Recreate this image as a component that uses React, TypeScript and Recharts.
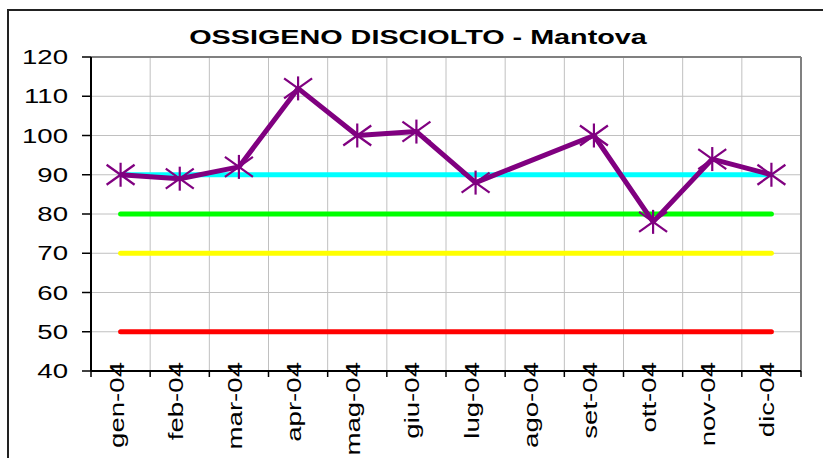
import { LineChart, Line, XAxis, YAxis, CartesianGrid, ReferenceLine } from 'recharts';

const months = ['gen-04', 'feb-04', 'mar-04', 'apr-04', 'mag-04', 'giu-04', 'lug-04', 'ago-04', 'set-04', 'ott-04', 'nov-04', 'dic-04'];
const ossigeno = [90, 89, 92, 112, 100, 101, 88, null, 100, 78, 94, 90];
const soglia90 = [90, 90, 90, 90, 90, 90, 90, 90, 90, 90, 90, 90];
const soglia80 = [80, 80, 80, 80, 80, 80, 80, 80, 80, 80, 80, 80];
const soglia70 = [70, 70, 70, 70, 70, 70, 70, 70, 70, 70, 70, 70];
const soglia50 = [50, 50, 50, 50, 50, 50, 50, 50, 50, 50, 50, 50];
const yTicks = [40, 50, 60, 70, 80, 90, 100, 110, 120];
const gridTicks = [0, 1, 2, 3, 4, 5, 6, 7, 8, 9, 10, 11, 12];

const data = months.map((m, i) => ({
  pos: i + 0.5,
  mese: m,
  ossigeno: ossigeno[i],
  s90: soglia90[i],
  s80: soglia80[i],
  s70: soglia70[i],
  s50: soglia50[i],
}));

const FONT = '"Liberation Sans", Arial, sans-serif';
const STRETCH = 1.38;

const YTick = ({ x, y, payload }: any) => (
  <g transform={`translate(${x},${y})`}>
    <text transform={`scale(${STRETCH},1)`} textAnchor="end" dy={7} fontSize={20} fontFamily={FONT} fill="#000">
      {payload.value}
    </text>
  </g>
);

// ticks sit on the category boundaries; the month name goes in the middle of each band
const XTick = ({ x, y, payload, width }: any) => {
  const idx = payload.value;
  if (idx >= months.length) return null;
  const band = width / months.length;
  const cx = x + band / 2;
  return (
    <g transform={`translate(${cx},${y - 15}) rotate(-90)`}>
      <text transform={`scale(${STRETCH},1)`} textAnchor="end" dy={3} fontSize={20} fontFamily={FONT} fill="#000">
        {months[idx]}
      </text>
    </g>
  );
};

const Asterisk = (props: any) => {
  const { cx, cy } = props;
  if (cx == null || cy == null || props.value == null) return null;
  return (
    <g stroke="#800080" strokeWidth={2.2} fill="none">
      <line x1={cx - 14} y1={cy - 10} x2={cx + 14} y2={cy + 10} />
      <line x1={cx - 14} y1={cy + 10} x2={cx + 14} y2={cy - 10} />
      <line x1={cx} y1={cy - 12} x2={cx} y2={cy + 12} />
    </g>
  );
};

export default function App() {
  return (
    <div style={{ position: 'absolute', left: 0, top: 0, width: 823, height: 458, overflow: 'hidden', background: '#fff' }}>
      <div
        style={{
          position: 'absolute', left: 7, top: 9, width: 840, height: 480,
          border: '2px solid #222', boxSizing: 'border-box',
        }}
      />
      <div
        style={{
          position: 'absolute', left: 0, top: 26, width: 836, textAlign: 'center',
          fontFamily: FONT, fontWeight: 'bold', fontSize: 21, lineHeight: '21px',
          transform: `scaleX(${1.37})`, transformOrigin: '418px 0',
        }}
      >
        OSSIGENO DISCIOLTO - Mantova
      </div>
      <div style={{ position: 'absolute', left: 0, top: 0 }}>
        <LineChart width={823} height={458} data={data} margin={{ top: 57, right: 22, bottom: 0, left: 8 }}>
          <CartesianGrid stroke="#c0c0c0" strokeWidth={1} />
          <XAxis
            dataKey="pos"
            type="number"
            domain={[0, 12]}
            ticks={gridTicks}
            interval={0}
            height={87}
            tickSize={6}
            tickMargin={0}
            tick={<XTick />}
            tickLine={{ stroke: '#000', strokeWidth: 1.5 }}
            axisLine={{ stroke: '#000', strokeWidth: 2 }}
          />
          <YAxis
            domain={[40, 120]}
            ticks={yTicks}
            interval={0}
            width={83}
            tickSize={9}
            tickMargin={14}
            tickLine={{ stroke: '#000', strokeWidth: 1.5 }}
            axisLine={{ stroke: '#000', strokeWidth: 2 }}
            tick={<YTick />}
          />
          <ReferenceLine y={120} stroke="#808080" strokeWidth={2} />
          <ReferenceLine x={12} stroke="#808080" strokeWidth={2} />
          <Line dataKey="s50" stroke="#ff0000" strokeWidth={5} strokeLinecap="round" dot={false} isAnimationActive={false} />
          <Line dataKey="s70" stroke="#ffff00" strokeWidth={5} strokeLinecap="round" dot={false} isAnimationActive={false} />
          <Line dataKey="s80" stroke="#00ff00" strokeWidth={5} strokeLinecap="round" dot={false} isAnimationActive={false} />
          <Line dataKey="s90" stroke="#00ffff" strokeWidth={5} strokeLinecap="round" dot={false} isAnimationActive={false} />
          <Line
            dataKey="ossigeno"
            stroke="#800080"
            strokeWidth={5}
            strokeLinejoin="round"
            connectNulls
            dot={<Asterisk />}
            activeDot={false}
            isAnimationActive={false}
          />
        </LineChart>
      </div>
    </div>
  );
}
